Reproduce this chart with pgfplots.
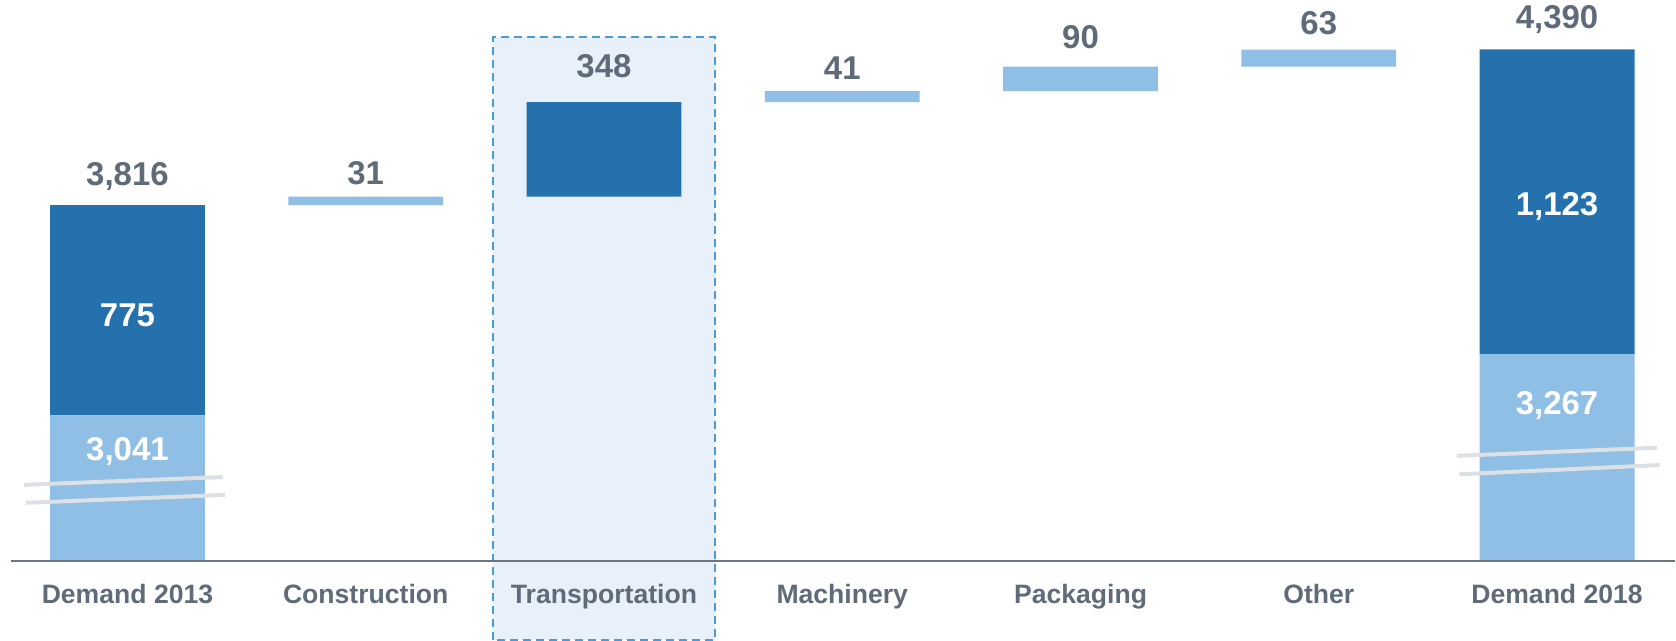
\documentclass[border=0pt]{standalone}
\usepackage{pgfplots}
\usepackage{pgfplotstable}
\pgfplotsset{compat=1.18}
\usepackage{fontspec}
\setmainfont{Liberation Sans}
\definecolor{darkb}{HTML}{2571AD}
\definecolor{lightb}{HTML}{90BFE6}
\definecolor{txt}{HTML}{5F6B79}
\definecolor{hl}{HTML}{E8F0FA}
\definecolor{hlb}{HTML}{4A9BDB}
\definecolor{brk}{HTML}{DDE0E4}
\definecolor{axl}{HTML}{6B7480}
\tikzset{vl/.style={font=\fontsize{16.5}{18}\selectfont\bfseries, inner sep=0pt}}
\pgfplotsset{myax/.style={
 scale only axis, width=838pt, height=280.5pt,
 xmin=-0.535, xmax=6.495, ymin=2505, ymax=4571}}
\pgfplotstableread{
x base light dark
0 0 3041 775
1 3816 31 0
2 3847 0 348
3 4195 41 0
4 4236 90 0
5 4326 63 0
6 0 3267 1123
}\data
\begin{document}
\begin{tikzpicture}
% background highlight
\begin{axis}[myax, hide axis, clip=false]
\draw[hlb, fill=hl, dash pattern=on 4pt off 2.5pt, line width=1pt] (axis cs:1.533,2214) rectangle (axis cs:2.464,4435);
\path (axis cs:-0.535,2210) rectangle (axis cs:6.495,4571);
\end{axis}
% bars
\begin{axis}[
 myax,
 ybar stacked, bar width=0.65,
 axis line style={draw=none},
 major tick length=0pt,
 ytick=\empty,
 xtick={0,...,6},
 xticklabels={Demand 2013, Construction, Transportation, Machinery, Packaging, Other, Demand 2018},
 xticklabel style={anchor=base, yshift=-21.25pt, font=\fontsize{13.3}{15}\selectfont\bfseries, text=txt},
]
\addplot[draw=none, fill=none] table[x=x,y=base]{\data};
\addplot[draw=none, fill=lightb] table[x=x,y=light]{\data};
\addplot[draw=none, fill=darkb] table[x=x,y=dark]{\data};
\end{axis}
% foreground
\begin{axis}[myax, hide axis, clip=false]
\draw[axl, line width=1pt] (axis cs:-0.49,2505) -- (axis cs:6.495,2505);
\draw[brk, line width=2pt] (axis cs:-0.434,2785) -- (axis cs:0.4,2814);
\draw[brk, line width=2pt] (axis cs:-0.426,2719) -- (axis cs:0.409,2748);
\draw[brk, line width=2pt] (axis cs:5.58,2892) -- (axis cs:6.42,2922);
\draw[brk, line width=2pt] (axis cs:5.59,2824) -- (axis cs:6.43,2858);
\node[vl, text=txt] at (axis cs:0,3922) {3,816};
\node[vl, text=txt] at (axis cs:1,3933) {31};
\node[vl, text=txt] at (axis cs:2,4328) {348};
\node[vl, text=txt] at (axis cs:3,4320) {41};
\node[vl, text=txt] at (axis cs:4,4434) {90};
\node[vl, text=txt] at (axis cs:5,4486) {63};
\node[vl, text=txt] at (axis cs:6,4498) {4,390};
\node[vl, text=white] at (axis cs:0,3410) {775};
\node[vl, text=white] at (axis cs:0,2909) {3,041};
\node[vl, text=white] at (axis cs:6,3812) {1,123};
\node[vl, text=white] at (axis cs:6,3079) {3,267};
\end{axis}
\end{tikzpicture}
\end{document}
